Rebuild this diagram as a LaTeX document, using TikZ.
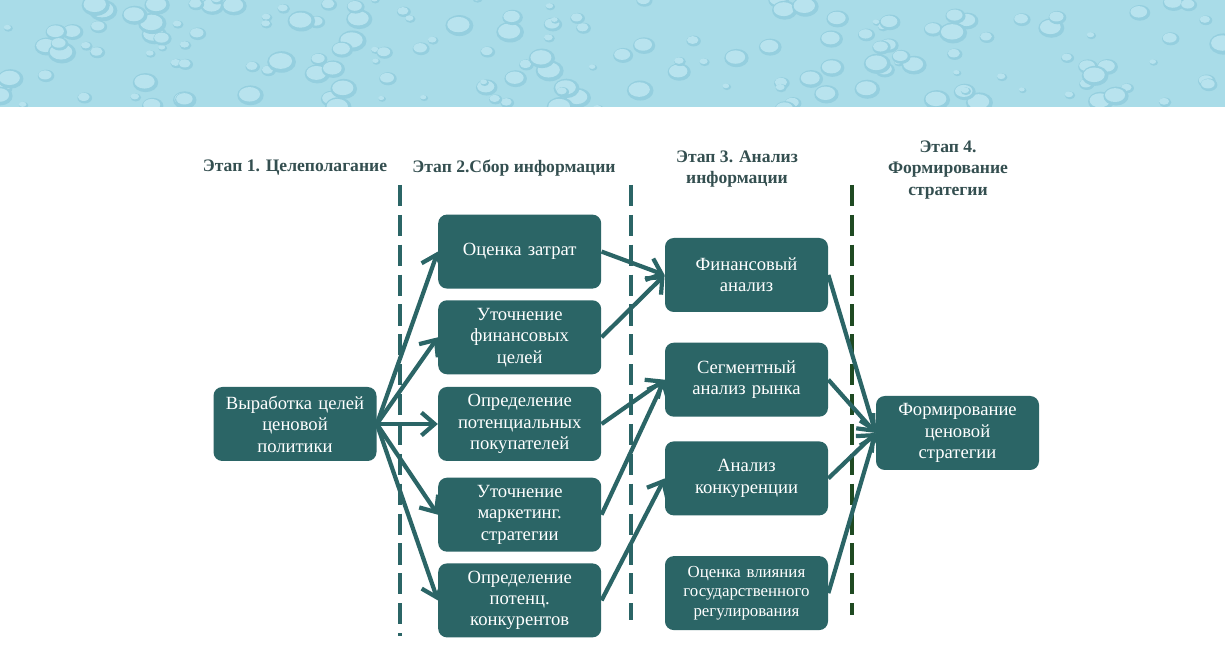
\documentclass[tikz,border=0pt]{standalone}
\usepackage{fontspec}
\setmainfont{Liberation Serif}
\usetikzlibrary{arrows.meta}
\usetikzlibrary{positioning}
\definecolor{boxteal}{HTML}{2B6566}
\definecolor{headgray}{HTML}{344F50}
\definecolor{linegreen}{HTML}{1F4A22}
\definecolor{waterbase}{HTML}{A9DCE8}
\definecolor{waterdark}{HTML}{95CFDF}
\definecolor{waterlight}{HTML}{B8E3EE}
\tikzset{
    box/.style={
      rectangle,
           rounded corners=5pt,
           fill=boxteal, draw=none,
           text=white,
           text width=3.0cm, align=center,
           minimum width=3.26cm, minimum height=1.48cm,
           font=\fontsize{10.6}{12.2}\selectfont,
           },
}
\tikzset{
    head/.style={
      text=headgray,
           align=center,
           inner sep=1pt,
           font=\fontsize{10}{12}\selectfont\bfseries,
           },
}
\tikzset{
    arr/.style={
      -{Straight Barb[length=7.5pt,width=13pt,line width=2.4pt]},
           line width=2.4pt, draw=boxteal,
           },
}
\tikzset{
    sep/.style={
      line width=2.2pt, draw=boxteal,
           dash pattern=on 12pt off 5pt,
           },
}

\begin{document}
\begin{tikzpicture}
\useasboundingbox[fill=white] (0,0) rectangle (24.5,13.02);

% water banner
\begin{scope}
\clip (0,10.88) rectangle (24.5,13.02);
\fill[waterbase] (0,10.88) rectangle (24.5,13.02);
\pgfmathsetseed{7}
\foreach \i in {1,...,170}{
  \pgfmathsetmacro{\dx}{24.5*rnd}
  \pgfmathsetmacro{\dy}{10.8+2.3*rnd}
  \pgfmathsetmacro{\dr}{0.07+0.22*rnd}
  \fill[waterdark] (\dx,\dy) ellipse[x radius=\dr cm, y radius=0.75*\dr cm];
  \fill[waterlight] (\dx-0.02,\dy+0.02) ellipse[x radius=0.8*\dr cm, y radius=0.55*\dr cm];
}
\end{scope}

% headers
\node[head](h1) at (5.9,9.66){Этап 1. Целеполагание};
\node[head](h2) at (10.28,9.66){Этап 2.Сбор информации};
\node[head](h3) at (14.74,9.64){Этап 3. Анализ\\ информации};
\node[head](h4) at (18.96,9.62){Этап 4.\\ Формирование\\ стратегии};

% separators
\coordinate (s1a) at (8.0,9.32);
\coordinate (s1b) at (8.0,0.30);
\coordinate (s2a) at (12.62,9.32);
\coordinate (s2b) at (12.62,0.62);
\coordinate (s3a) at (17.04,9.32);
\coordinate (s3b) at (17.04,0.72);
\draw[sep] (s1a) -- (s1b);
\draw[sep] (s2a) -- (s2b);
\draw[sep,draw=linegreen,line width=1.8pt] (s3a) -- (s3b);

% stage 1
\node[box](gl) at (5.9,4.54){Выработка целей\\ ценовой\\ политики};

% stage 2
\node[box,right = 1.22cm of gl](pp){Определение\\ потенциальных\\ покупателей};
\node[box,above = 0.24cm of pp](fc){Уточнение\\ финансовых\\ целей};
\node[box,above = 0.22cm of fc](oz){Оценка затрат};
\node[box,below = 0.32cm of pp](ms){Уточнение\\ маркетинг.\\ стратегии};
\node[box,below = 0.22cm of ms](pk){Определение\\ потенц.\\ конкурентов};

% stage 3
\node[box](fa) at (14.93,7.52){Финансовый\\ анализ};
\node[box,below = 0.6cm of fa](sa){Сегментный\\ анализ рынка};
\node[box,below = 0.48cm of sa](ak){Анализ\\ конкуренции};
\node[box,below = 0.8cm of ak,font=\fontsize{9.6}{11}\selectfont](ov){Оценка влияния\\ государственного\\ регулирования};

% stage 4
\node[box](fs) at (19.15,4.36){Формирование\\ ценовой\\ стратегии};

\path (gl.east) edge[arr](oz.west);
\path (gl.east) edge[arr](fc.west);
\path (gl.east) edge[arr](pp.west);
\path (gl.east) edge[arr](ms.west);
\path (gl.east) edge[arr](pk.west);

\path (oz.east) edge[arr](fa.west);
\path (fc.east) edge[arr](fa.west);
\path (pp.east) edge[arr](sa.west);
\path (ms.east) edge[arr](sa.west);
\path (pk.east) edge[arr](ak.west);

\path (fa.east) edge[arr](fs.west);
\path (sa.east) edge[arr](fs.west);
\path (ak.east) edge[arr](fs.west);
\path (ov.east) edge[arr](fs.west);

\end{tikzpicture}
\end{document}
